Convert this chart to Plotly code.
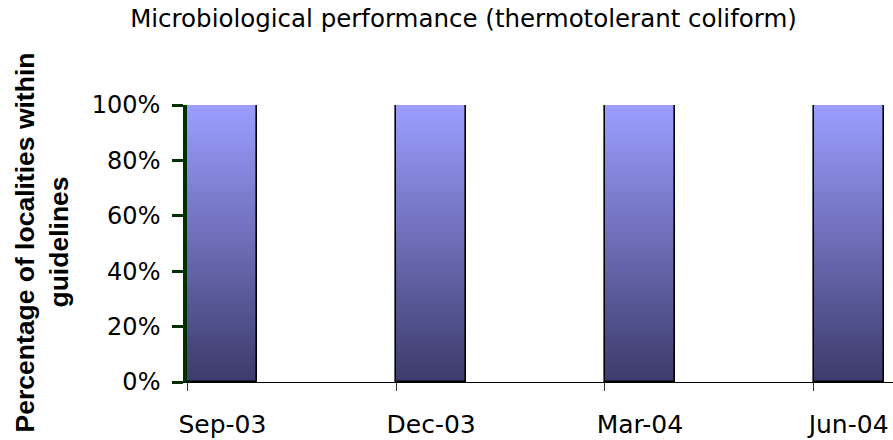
import plotly.graph_objects as go

# ---- data ----
categories = ["Sep-03", "Dec-03", "Mar-04", "Jun-04"]
values = [1.0, 1.0, 1.0, 1.0]          # share of localities within guidelines
y_ticks = [0, 0.2, 0.4, 0.6, 0.8, 1.0]

# ---- style ----
positions = list(range(len(categories)))
bar_width = 0.335
top_rgb = (156, 156, 255)
bottom_rgb = (60, 60, 108)
n_steps = 70
H_FONT = "DejaVu Sans"
V_FONT = "Liberation Sans"

fig = go.Figure()

# gradient fill: stacked overlays from full height (top colour) to shortest (bottom colour)
for i in range(n_steps):
    f = i / (n_steps - 1)
    r = round(top_rgb[0] + (bottom_rgb[0] - top_rgb[0]) * f)
    g = round(top_rgb[1] + (bottom_rgb[1] - top_rgb[1]) * f)
    b = round(top_rgb[2] + (bottom_rgb[2] - top_rgb[2]) * f)
    frac = (n_steps - i) / n_steps
    fig.add_trace(go.Bar(
        x=positions, y=[v * frac for v in values], base=0,
        width=bar_width, marker=dict(color=f"rgb({r},{g},{b})", line=dict(width=0)),
        hoverinfo="skip", showlegend=False, xaxis="x", yaxis="y",
    ))

# outline
fig.add_trace(go.Bar(
    x=positions, y=values, base=0, width=bar_width,
    marker=dict(color="rgba(0,0,0,0)", line=dict(color="black", width=1.6)),
    customdata=categories,
    hovertemplate="%{customdata}: %{y:.0%}<extra></extra>",
    showlegend=False, xaxis="x", yaxis="y",
))

xr = [-bar_width / 2 - 0.002, 3.2129]
plot_w = 893 - 187
px_per_unit = plot_w / (xr[1] - xr[0])

fig.update_layout(
    width=893, height=440,
    margin=dict(l=187, r=0, t=105, b=58, autoexpand=False),
    paper_bgcolor="white", plot_bgcolor="white",
    barmode="overlay", bargap=0,
    title=dict(text="Microbiological performance (thermotolerant coliform)",
               font=dict(family=H_FONT, size=24.5, color="black"),
               x=463.5 / 893, xanchor="center", xref="container",
               y=1 - 18 / 440, yanchor="middle", yref="container"),
    xaxis=dict(range=xr, showgrid=False, zeroline=False, automargin=False,
               showline=True, linecolor="black", linewidth=1,
               tickmode="array", tickvals=[p - bar_width / 2 for p in positions],
               ticktext=categories,
               ticklabelshift=int(round(bar_width / 2 * px_per_unit)),
               ticklabelstandoff=12,
               tickfont=dict(family=H_FONT, size=25, color="black"),
               ticks="outside", ticklen=8, tickwidth=1, tickcolor="#333333"),
    yaxis=dict(range=[0, 1], showgrid=False, zeroline=False, automargin=False,
               showline=True, linecolor="#003000", linewidth=3.5,
               tickmode="array", tickvals=y_ticks, tickformat=".0%",
               ticks="outside", ticklen=11, tickwidth=3, tickcolor="#003000",
               ticklabelstandoff=7, layer="above traces",
               tickfont=dict(family=H_FONT, size=24, color="black")),
    annotations=[
        dict(text="<b>Percentage of localities within</b>", textangle=-90,
             xref="paper", yref="paper", x=0, y=(382 - 242.5) / 277,
             xshift=-163, xanchor="center", yanchor="middle", showarrow=False,
             font=dict(family=V_FONT, size=26.5, color="black")),
        dict(text="<b>guidelines</b>", textangle=-90,
             xref="paper", yref="paper", x=0, y=(382 - 242.5) / 277,
             xshift=-129, xanchor="center", yanchor="middle", showarrow=False,
             font=dict(family=V_FONT, size=26.5, color="black")),
    ],
)

fig.write_html("out.html", config={"displayModeBar": False},
               post_script="document.body.style.margin='0';document.body.style.padding='0';")
